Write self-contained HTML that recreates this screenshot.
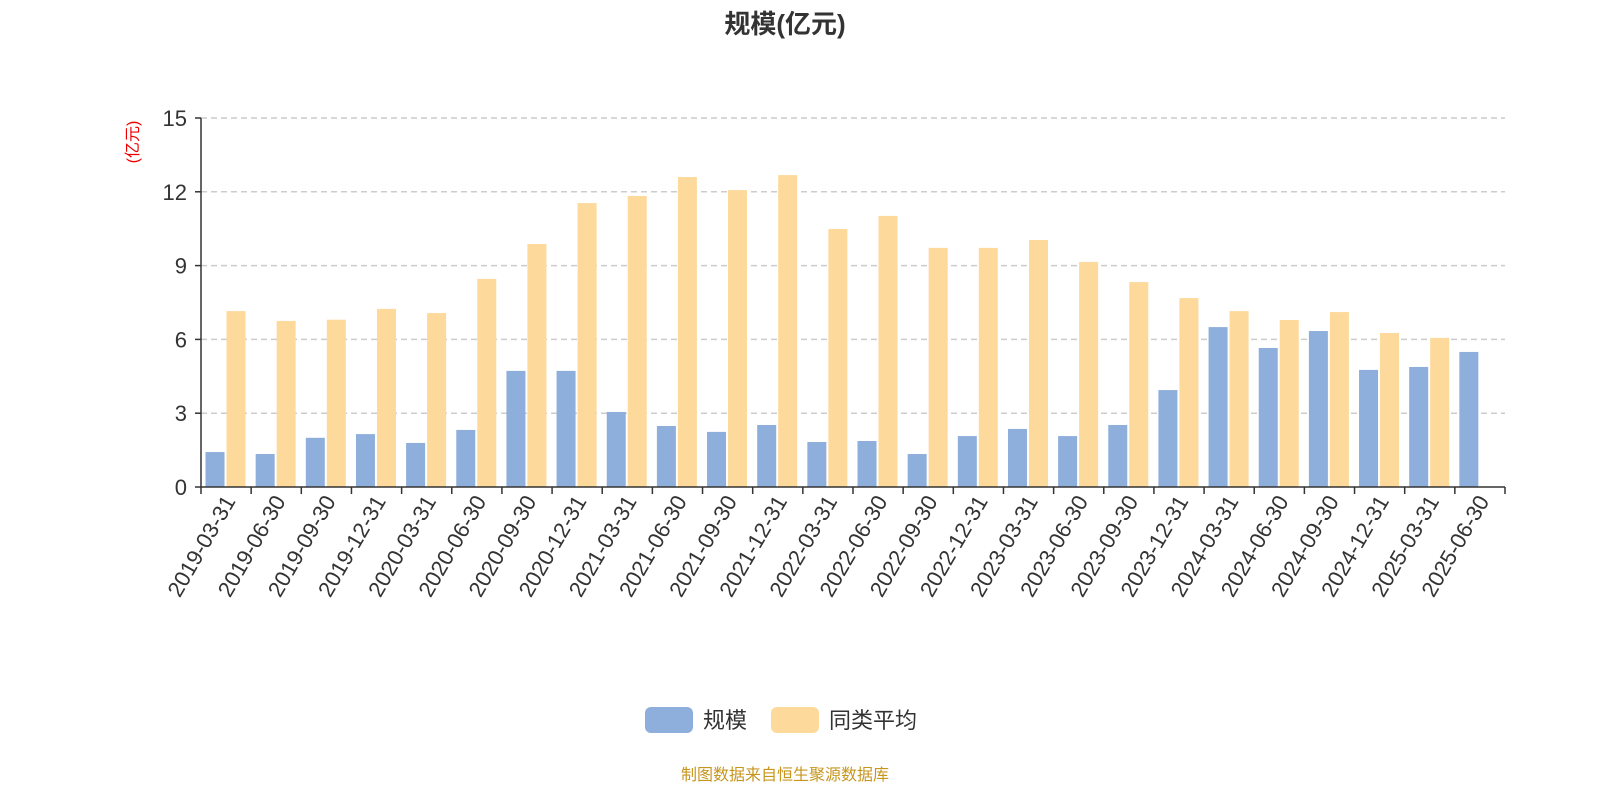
<!DOCTYPE html>
<html><head><meta charset="utf-8"><style>
body{margin:0;background:#fff;font-family:"Liberation Sans","Noto Sans CJK SC",sans-serif}
svg{display:block}
</style></head><body>
<svg id="chart" width="1600" height="800" xmlns="http://www.w3.org/2000/svg" font-family="Liberation Sans, Noto Sans CJK SC, sans-serif">
<text x="785" y="33" text-anchor="middle" font-size="26" font-weight="bold" fill="#333">规模(亿元)</text>
<text transform="translate(138,142) rotate(-90)" text-anchor="middle" font-size="16" fill="#e00">(亿元)</text>
<g id="grid"></g><g id="bars"></g><g id="axes"></g>
<g>
<g><rect x="645" y="707" width="48" height="26" rx="6" fill="#8eaedb"/><text x="703" y="728" font-size="22" fill="#333">规模</text></g>
<g><rect x="771" y="707" width="48" height="26" rx="6" fill="#fdd99b"/><text x="829" y="728" font-size="22" fill="#333">同类平均</text></g>
</g>
<text x="785" y="780" text-anchor="middle" font-size="16" fill="#c8961e">制图数据来自恒生聚源数据库</text>
</svg>
<script>
const categories=["2019-03-31","2019-06-30","2019-09-30","2019-12-31","2020-03-31","2020-06-30","2020-09-30","2020-12-31","2021-03-31","2021-06-30","2021-09-30","2021-12-31","2022-03-31","2022-06-30","2022-09-30","2022-12-31","2023-03-31","2023-06-30","2023-09-30","2023-12-31","2024-03-31","2024-06-30","2024-09-30","2024-12-31","2025-03-31","2025-06-30"];
const scaleValues=[1.42,1.34,2.0,2.15,1.79,2.32,4.72,4.72,3.05,2.48,2.24,2.52,1.83,1.87,1.34,2.07,2.36,2.07,2.52,3.94,6.5,5.65,6.34,4.76,4.88,5.49];
const avgValues=[7.15,6.75,6.8,7.24,7.07,8.46,9.88,11.54,11.83,12.6,12.07,12.68,10.49,11.02,9.72,9.72,10.04,9.15,8.33,7.68,7.15,6.79,7.11,6.26,6.06,null];
const yTicks=[0,3,6,9,12,15];
const NS="http://www.w3.org/2000/svg";
const X0=201,X1=1505,Y0=487,Y1=118,YMAX=15;
const band=(X1-X0)/categories.length;
const y=v=>Y0-(v/YMAX)*(Y0-Y1);
const xb=i=>X0+i*band;
function mk(tag,attrs,parent){const e=document.createElementNS(NS,tag);for(const k in attrs)e.setAttribute(k,attrs[k]);parent.appendChild(e);return e;}
const grid=document.getElementById('grid'),bars=document.getElementById('bars'),axes=document.getElementById('axes');
yTicks.forEach(t=>{
  if(t>0){const g=mk('line',{x1:X0,x2:X1,y1:y(t),y2:y(t),stroke:'#ccc','stroke-dasharray':'6,4','stroke-width':1.5},grid);
  
  }
  const tl=mk('text',{x:X0-14,y:y(t)+8,'text-anchor':'end','font-size':22,fill:'#333'},axes);tl.textContent=t;
  
  
  mk('line',{x1:X0-6,x2:X0,y1:y(t),y2:y(t),stroke:'#333','stroke-width':1.5},axes);
});
const bw=19;
categories.forEach((c,i)=>{
  const b=mk('rect',{x:xb(i)+4.5,y:y(scaleValues[i]),width:bw,height:Y0-y(scaleValues[i]),fill:'#8eaedb'},bars);
  
  
  if(avgValues[i]!=null){const a=mk('rect',{x:xb(i)+25.5,y:y(avgValues[i]),width:bw,height:Y0-y(avgValues[i]),fill:'#fdd99b'},bars);
  
  }
  const cx=xb(i)+band/2;
  const tl=mk('text',{transform:`translate(${cx+10},${Y0+14}) rotate(-60)`,'text-anchor':'end','font-size':22,fill:'#333'},axes);tl.textContent=c;
  
  
});
for(let i=0;i<=categories.length;i++)mk('line',{x1:xb(i),x2:xb(i),y1:Y0,y2:Y0+7,stroke:'#333','stroke-width':1.5},axes);
mk('line',{x1:X0,x2:X0,y1:Y1,y2:Y0,stroke:'#333','stroke-width':1.5},axes);
mk('line',{x1:X0,x2:X1,y1:Y0,y2:Y0,stroke:'#333','stroke-width':1.5},axes);
</script>
</body></html>
